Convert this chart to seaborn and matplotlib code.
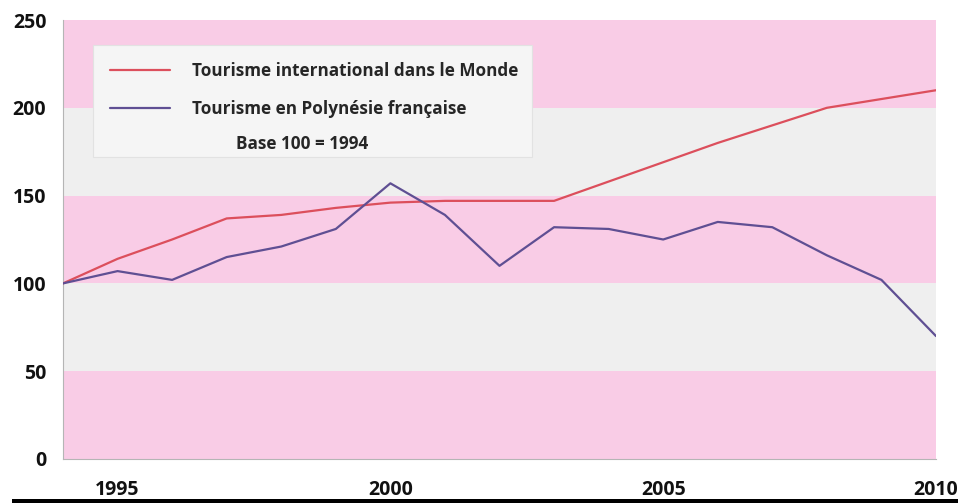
import matplotlib
matplotlib.use("Agg")
import matplotlib.pyplot as plt
from matplotlib.patches import Rectangle
from matplotlib.lines import Line2D
import seaborn as sns
import pandas as pd

years = list(range(1994, 2011))
monde = [100, 114, 125, 137, 139, 143, 146, 147, 147, 147, 158, 169, 180, 190, 200, 205, 210]
polynesie = [100, 107, 102, 115, 121, 131, 157, 139, 110, 132, 131, 125, 135, 132, 116, 102, 70]
series_names = ["Tourisme international dans le Monde", "Tourisme en Polynésie française"]
base_note = "Base 100 = 1994"
y_ticks = [0, 50, 100, 150, 200, 250]
x_ticks = [1995, 2000, 2005, 2010]

df = pd.DataFrame({
    "Année": years * 2,
    "Indice": monde + polynesie,
    "Série": [series_names[0]] * len(years) + [series_names[1]] * len(years),
})

sns.set_style("white")
plt.rcParams["font.family"] = ["Open Sans", "DejaVu Sans"]
plt.rcParams["font.weight"] = "bold"

pink = "#f9cce6"
grey = "#efefef"
colors = {series_names[0]: "#dc4f5c", series_names[1]: "#5f4f93"}

fig = plt.figure(figsize=(9.65, 5.03), dpi=100)
ax = fig.add_axes([63 / 965, 1 - 459 / 503, (936 - 63) / 965, (459 - 20) / 503])

# alternating background bands
for i, (lo, hi) in enumerate(zip(y_ticks[:-1], y_ticks[1:])):
    ax.axhspan(lo, hi, color=pink if i % 2 == 0 else grey, lw=0, zorder=0)

sns.lineplot(data=df, x="Année", y="Indice", hue="Série", palette=colors,
             lw=1.6, ax=ax, legend=False, zorder=3)

ax.set_xlim(1994, 2010)
ax.set_ylim(0, 250)
ax.set_yticks(y_ticks)
ax.set_xticks(years, minor=False)
ax.set_xticklabels([str(y) if y in x_ticks else "" for y in years])
ax.set_xlabel("")
ax.set_ylabel("")
ax.tick_params(axis="both", length=6, width=0.8, color="#aaaaaa",
               labelsize=14, pad=6, direction="out")
ax.tick_params(axis="x", pad=9)
for lab in ax.get_xticklabels() + ax.get_yticklabels():
    lab.set_fontweight("bold")
    lab.set_color("#111111")
for side in ["top", "right"]:
    ax.spines[side].set_visible(False)
for side in ["left", "bottom"]:
    ax.spines[side].set_color("#b5b5b5")
    ax.spines[side].set_linewidth(0.8)

# legend box
fig.patches.append(Rectangle((93 / 965, 1 - 157 / 503), (532 - 93) / 965, (157 - 45) / 503,
                             transform=fig.transFigure, facecolor="#f5f5f5",
                             edgecolor="#e2e2e2", lw=0.8, zorder=5))
handles = [Line2D([], [], color=colors[n], lw=1.6) for n in series_names]
leg = fig.legend(handles, series_names, loc="center left",
                 bbox_to_anchor=(95 / 965, 1 - 90 / 503),
                 frameon=False, prop={"size": 12.3, "weight": "bold"},
                 handlelength=3.5, handletextpad=1.3, labelspacing=1.15)
leg.set_zorder(6)
fig.text(302 / 965, 1 - 144 / 503, base_note, ha="center", va="center",
         fontsize=12.3, fontweight="bold", zorder=6)

# black strip at the bottom of the image
fig.patches.append(Rectangle((12 / 965, 0), (958 - 12) / 965, 4 / 503,
                             transform=fig.transFigure, facecolor="black", lw=0))

fig.savefig("out.png", dpi=100)
